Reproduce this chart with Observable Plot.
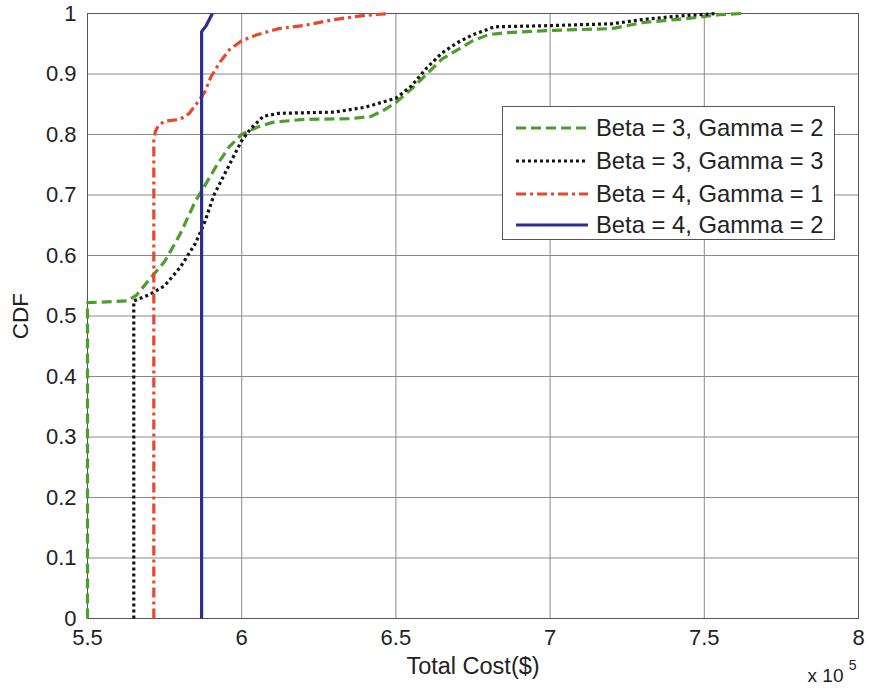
<!DOCTYPE html>
<html>
<head>
<meta charset="utf-8">
<script src="https://cdn.jsdelivr.net/npm/d3@7"></script>
<script src="https://cdn.jsdelivr.net/npm/@observablehq/plot@0.6"></script>
<style>
  html, body { margin: 0; padding: 0; background: #fff; }
  #wrap { position: relative; width: 869px; height: 694px; font-family: "Liberation Sans", Arial, Helvetica, sans-serif; }
  #legend { position: absolute; left: 502px; top: 106px; width: 333px; height: 134px; box-sizing: border-box; border: 1px solid #555; background: #fff; }
</style>
</head>
<body>
<div id="wrap"></div>
<script>
// ---- data (x in units of 1e5 $) ----
const seriesNames = ["Beta = 3, Gamma = 2", "Beta = 3, Gamma = 3", "Beta = 4, Gamma = 1", "Beta = 4, Gamma = 2"];
const seriesColors = ["#4e9e2e", "#151515", "#e8482a", "#2b2f8e"];
const seriesDash = ["10,5", "3,3", "10,4,3,4", "none"];

const greenX = [5.5, 5.5, 5.63, 5.66, 5.70, 5.75, 5.80, 5.85, 5.88, 5.92, 5.96, 6.0, 6.05, 6.1, 6.2, 6.35, 6.42, 6.46, 6.5, 6.55, 6.6, 6.65, 6.7, 6.75, 6.8, 6.85, 7.0, 7.2, 7.3, 7.45, 7.55, 7.62];
const greenY = [0, 0.522, 0.525, 0.535, 0.56, 0.59, 0.635, 0.69, 0.715, 0.75, 0.78, 0.80, 0.812, 0.82, 0.825, 0.826, 0.83, 0.84, 0.853, 0.875, 0.90, 0.925, 0.94, 0.955, 0.965, 0.968, 0.972, 0.975, 0.985, 0.992, 0.998, 1.0];

const blackX = [5.65, 5.65, 5.70, 5.75, 5.80, 5.85, 5.88, 5.91, 5.95, 6.0, 6.03, 6.07, 6.12, 6.3, 6.4, 6.5, 6.55, 6.6, 6.65, 6.7, 6.75, 6.82, 7.0, 7.2, 7.3, 7.42, 7.54];
const blackY = [0, 0.525, 0.535, 0.55, 0.58, 0.62, 0.655, 0.70, 0.74, 0.79, 0.81, 0.83, 0.835, 0.837, 0.845, 0.86, 0.88, 0.91, 0.935, 0.952, 0.965, 0.978, 0.98, 0.983, 0.99, 0.996, 1.0];

const redX = [5.715, 5.715, 5.72, 5.73, 5.75, 5.8, 5.83, 5.86, 5.88, 5.9, 5.93, 5.96, 6.0, 6.05, 6.12, 6.2, 6.3, 6.4, 6.48];
const redY = [0, 0.79, 0.805, 0.815, 0.822, 0.825, 0.835, 0.855, 0.87, 0.895, 0.92, 0.94, 0.955, 0.965, 0.975, 0.98, 0.99, 0.997, 1.0];

const blueX = [5.87, 5.87, 5.885, 5.9, 5.905];
const blueY = [0, 0.97, 0.98, 0.995, 1.0];

const xTicks = [5.5, 6, 6.5, 7, 7.5, 8];
const xTickLabels = ["5.5", "6", "6.5", "7", "7.5", "8"];
const yTicks = [0, 0.1, 0.2, 0.3, 0.4, 0.5, 0.6, 0.7, 0.8, 0.9, 1];
const yTickLabels = ["0", "0.1", "0.2", "0.3", "0.4", "0.5", "0.6", "0.7", "0.8", "0.9", "1"];

const xLabel = "Total Cost($)";
const yLabel = "CDF";
const xExponentBase = "x 10";
const xExponent = "5";

// ---- build tables ----
const allX = [greenX, blackX, redX, blueX];
const allY = [greenY, blackY, redY, blueY];
const rows = [];
allX.forEach((xs, i) => xs.forEach((x, j) => rows.push({series: seriesNames[i], x, y: allY[i][j]})));

const font = "'Liberation Sans', Arial, Helvetica, sans-serif";

const lineMarks = seriesNames.map((name, i) => Plot.line(rows.filter(r => r.series === name), {
  x: "x", y: "y", stroke: seriesColors[i], strokeWidth: 3.2,
  strokeDasharray: seriesDash[i] === "none" ? null : seriesDash[i],
  strokeLinecap: "butt", strokeLinejoin: "round"
}));

const chart = Plot.plot({
  width: 869,
  height: 694,
  marginTop: 13,
  marginRight: 11,
  marginBottom: 76,
  marginLeft: 87,
  style: {fontFamily: font, fontSize: "22px", color: "#222", background: "#fff"},
  x: {domain: [5.5, 8], ticks: xTicks},
  y: {domain: [0, 1], ticks: yTicks},
  marks: [
    Plot.gridX(xTicks, {stroke: "#8a8a8a", strokeOpacity: 1, strokeWidth: 1}),
    Plot.gridY(yTicks, {stroke: "#8a8a8a", strokeOpacity: 1, strokeWidth: 1}),
    Plot.frame({stroke: "#555", strokeWidth: 1}),
    Plot.axisX(xTicks, {tickSize: 0, tickPadding: 11, tickFormat: (d, i) => xTickLabels[i], label: null, fontSize: 22}),
    Plot.axisY(yTicks, {tickSize: 0, tickPadding: 11, tickFormat: (d, i) => yTickLabels[i], label: null, fontSize: 22}),
    ...lineMarks,
    Plot.text([xLabel], {frameAnchor: "bottom", dy: 48, text: d => d, fontSize: 23.5, textAnchor: "middle", lineAnchor: "middle", fill: "#222"}),
    Plot.text([yLabel], {frameAnchor: "left", dx: -67, rotate: -90, text: d => d, fontSize: 22.5, textAnchor: "middle", lineAnchor: "middle", fill: "#222"}),
    Plot.text([xExponentBase], {frameAnchor: "bottom-right", dx: -15, dy: 63, text: d => d, fontSize: 19, textAnchor: "end", lineAnchor: "bottom", fill: "#222"}),
    Plot.text([xExponent], {frameAnchor: "bottom-right", dx: -2, dy: 51, text: d => d, fontSize: 14, textAnchor: "end", lineAnchor: "bottom", fill: "#222"})
  ]
});

const wrap = document.getElementById("wrap");
wrap.appendChild(chart);

// ---- legend ----
const legend = document.createElement("div");
legend.id = "legend";
const ns = "http://www.w3.org/2000/svg";
const lsvg = document.createElementNS(ns, "svg");
lsvg.setAttribute("width", 331);
lsvg.setAttribute("height", 132);
const rowY = [21, 54, 87, 118];
seriesNames.forEach((name, i) => {
  const ln = document.createElementNS(ns, "line");
  ln.setAttribute("x1", 13); ln.setAttribute("x2", 85);
  ln.setAttribute("y1", rowY[i]); ln.setAttribute("y2", rowY[i]);
  ln.setAttribute("stroke", seriesColors[i]);
  ln.setAttribute("stroke-width", 3.2);
  if (seriesDash[i] !== "none") ln.setAttribute("stroke-dasharray", seriesDash[i]);
  lsvg.appendChild(ln);
  const t = document.createElementNS(ns, "text");
  t.setAttribute("x", 93); t.setAttribute("y", rowY[i]);
  t.setAttribute("dy", "0.35em");
  t.setAttribute("font-size", "23.8px");
  t.setAttribute("font-family", font);
  t.setAttribute("fill", "#222");
  t.textContent = name;
  lsvg.appendChild(t);
});
legend.appendChild(lsvg);
wrap.appendChild(legend);
</script>
</body>
</html>
